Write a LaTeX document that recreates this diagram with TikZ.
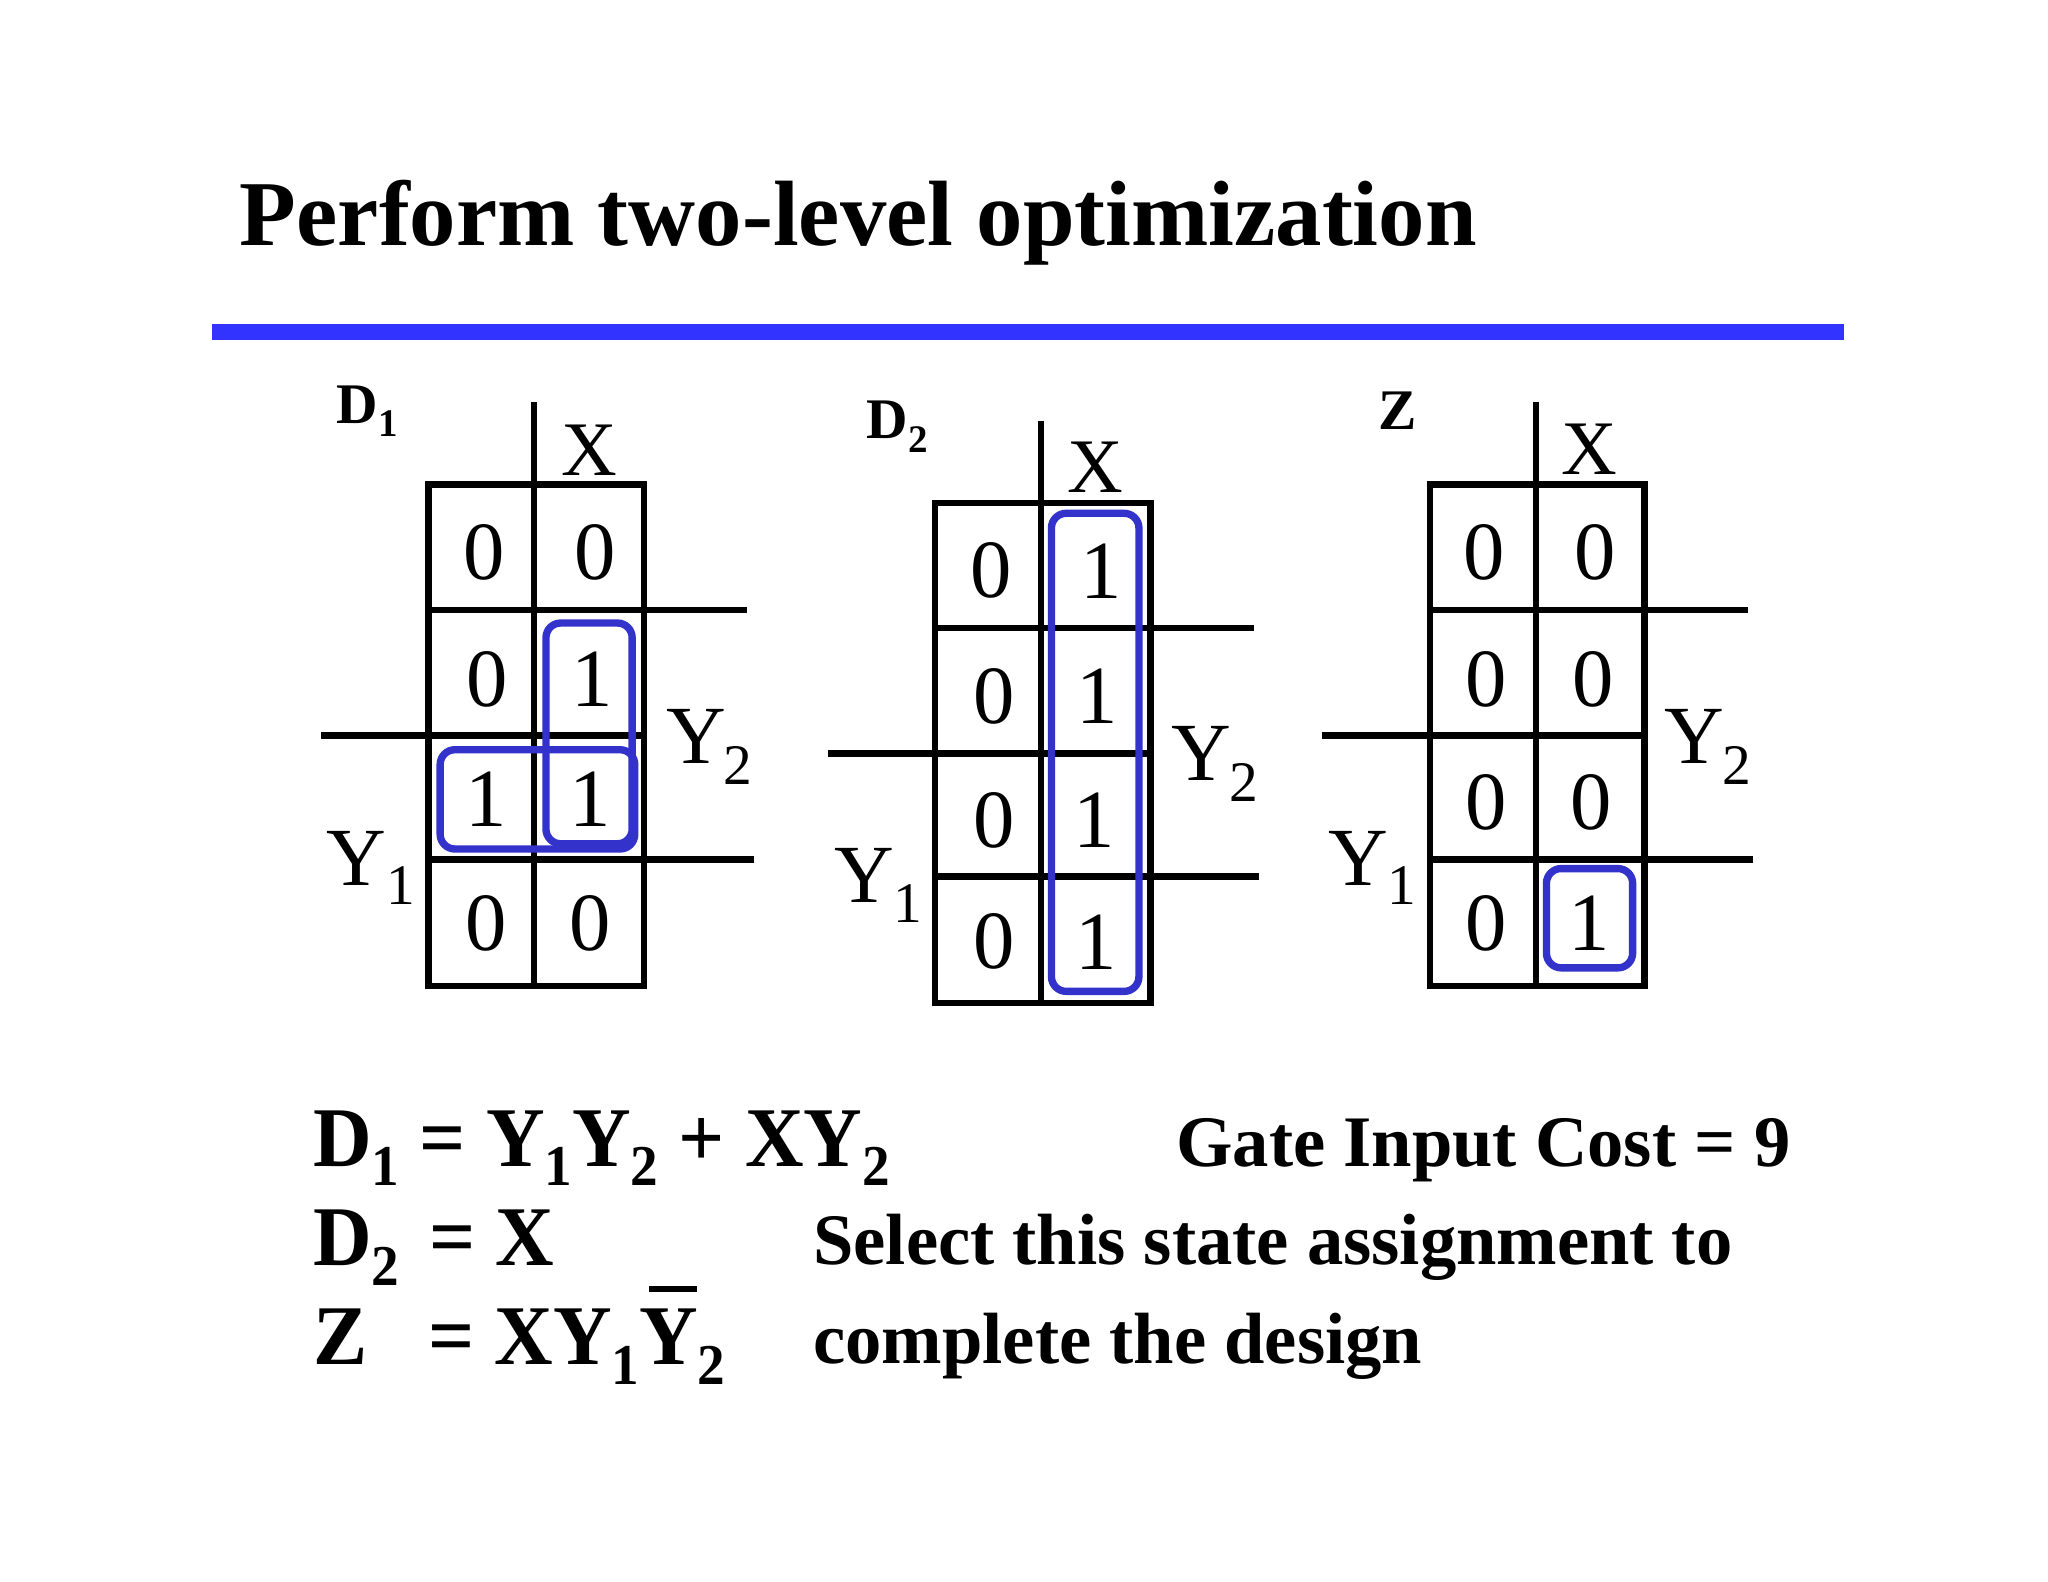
\documentclass[tikz,border=0pt]{standalone}
\usepackage{fontspec}
\setmainfont{Liberation Serif}
\definecolor{rulecol}{RGB}{51,51,255}
\definecolor{loopcol}{RGB}{51,51,204}
\newcommand{\lowsub}[1]{\raisebox{-0.23em}{\scalebox{0.68}{#1}}}
\newcommand{\squeezed}[1]{\scalebox{0.955}[1]{#1}}

\begin{document}
\begin{tikzpicture}[x=0.01cm,y=-0.01cm,
    grid/.style={line width=1.4pt},
    group/.style={loopcol,line width=1.6pt,rounded corners=3.2pt},
    bit/.style={inner sep=0pt,font=\fontsize{18}{18}\selectfont},
    lab/.style={inner sep=0pt,font=\fontsize{18}{18}\selectfont},
    labx/.style={inner sep=0pt,font=\fontsize{16.8}{16.8}\selectfont},
    labsub/.style={inner sep=0pt,font=\fontsize{12.5}{12.5}\selectfont},
    mapname/.style={inner sep=0pt,anchor=base west,font=\bfseries\fontsize{12.5}{12.5}\selectfont},
    eqn/.style={inner sep=0pt,anchor=base west,font=\bfseries\fontsize{18.5}{18.5}\selectfont},
    remark/.style={inner sep=0pt,anchor=base west,font=\bfseries\fontsize{15.8}{15.8}\selectfont}]
    \useasboundingbox (0,0) rectangle (1568,1211);
    \node[inner sep=0pt,anchor=base west,font=\bfseries\fontsize{20.2}{20.2}\selectfont] (title) at (183,188) {Perform two-level optimization};
    \fill[rulecol] (162,248) rectangle (1412,260);
    % first map
    \draw[grid] (328,371) rectangle (493,755);
    \draw[grid] (409,308)--(409,755);
    \draw[grid] (328,467)--(572,467);
    \draw[grid] (246,563)--(493,563);
    \draw[grid] (328,658)--(577,658);
    \node[mapname] (nameA) at (257,324) {D\lowsub{1}};
    \node[labx] (xA) at (451,345) {X};
    \node[lab] (yyA) at (533,564) {Y};
    \node[labsub] (yyAsub) at (565,586) {2};
    \node[lab] (yA) at (273,657) {Y};
    \node[labsub] (yAsub) at (307,678) {1};
    \node[bit] (a1) at (371,423) {0};
    \node[bit] (a2) at (456,423) {0};
    \node[bit] (a3) at (373,520) {0};
    \node[bit] (a4) at (453,520) {1};
    \node[bit] (a5) at (372,612) {1};
    \node[bit] (a6) at (452,612) {1};
    \node[bit] (a7) at (372,707) {0};
    \node[bit] (a8) at (452,707) {0};
    \draw[group] (418,477) rectangle (484,646);
    \draw[group] (337,574) rectangle (486,650);
    % second map
    \draw[grid] (716,385) rectangle (881,768);
    \draw[grid] (797,322)--(797,768);
    \draw[grid] (716,481)--(960,481);
    \draw[grid] (634,577)--(881,577);
    \draw[grid] (716,671)--(964,671);
    \node[mapname] (nameB) at (663,336) {D\lowsub{2}};
    \node[labx] (xB) at (839,358) {X};
    \node[lab] (yyB) at (920,577) {Y};
    \node[labsub] (yyBsub) at (952,599) {2};
    \node[lab] (yB) at (662,670) {Y};
    \node[labsub] (yBsub) at (695,692) {1};
    \node[bit] (b1) at (759,437) {0};
    \node[bit] (b2) at (843,437) {1};
    \node[bit] (b3) at (761,533) {0};
    \node[bit] (b4) at (840,533) {1};
    \node[bit] (b5) at (761,628) {0};
    \node[bit] (b6) at (838,628) {1};
    \node[bit] (b7) at (761,721) {0};
    \node[bit] (b8) at (839,721) {1};
    \draw[group] (805,393) rectangle (872,759);
    % third map
    \draw[grid] (1095,371) rectangle (1259,755);
    \draw[grid] (1176,308)--(1176,755);
    \draw[grid] (1095,467)--(1338,467);
    \draw[grid] (1012,563)--(1259,563);
    \draw[grid] (1095,658)--(1342,658);
    \node[mapname] (nameC) at (1055,329) {Z};
    \node[labx] (xC) at (1217,344) {X};
    \node[lab] (yyC) at (1297,564) {Y};
    \node[labsub] (yyCsub) at (1330,586) {2};
    \node[lab] (yC) at (1040,657) {Y};
    \node[labsub] (yCsub) at (1073,678) {1};
    \node[bit] (c1) at (1136,423) {0};
    \node[bit] (c2) at (1221,423) {0};
    \node[bit] (c3) at (1138,520) {0};
    \node[bit] (c4) at (1220,520) {0};
    \node[bit] (c5) at (1138,614) {0};
    \node[bit] (c6) at (1218,614) {0};
    \node[bit] (c7) at (1138,707) {0};
    \node[bit] (c8) at (1217,707) {1};
    \draw[group] (1184,665) rectangle (1250,741);
    % equations
    \node[eqn] (eqA) at (239,893) {\squeezed{D\lowsub{1} = Y\lowsub{1}Y\lowsub{2} + XY\lowsub{2}}};
    \node[eqn] (eqB) at (239,969) {\squeezed{D\lowsub{2}}};
    \node[eqn] (eqBb) at (328,969) {\squeezed{= X}};
    \node[eqn] (eqC) at (239,1045) {\squeezed{Z}};
    \node[eqn] (eqD) at (327,1045) {\squeezed{= XY\lowsub{1}Y\lowsub{2}}};
    \draw[line width=1.3pt] (497,987)--(534,987);
    \node[remark] (cost) at (900,893) {Gate Input Cost = 9};
    \node[remark] (sel) at (622,968) {Select this state assignment to};
    \node[remark] (done) at (622,1044) {complete the design};
\end{tikzpicture}
\end{document}
